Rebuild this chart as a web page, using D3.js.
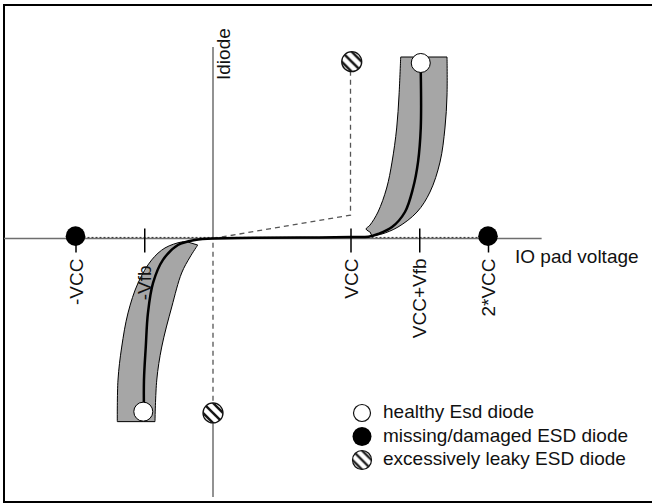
<!DOCTYPE html>
<html>
<head>
<meta charset="utf-8">
<script src="https://cdn.jsdelivr.net/npm/d3@7"></script>
<style>
  body { margin: 0; background: #fff; }
  text { font-family: Arial, "Liberation Sans", sans-serif; fill: #111; }
</style>
</head>
<body>
<svg id="chart" width="652" height="504"></svg>
<script>
// axis ticks (voltage in units of VCC)
var tickValues = [-1, -0.5, 1, 1.5, 2];
var tickLabels = ["-VCC", "-Vfb", "VCC", "VCC+Vfb", "2*VCC"];

// healthy diode I-V curve, positive side (x: V/VCC, y: relative current)
var healthyPos = [[0, 0], [0.3, 0.004], [0.63, 0.005], [1.0, 0.008], [1.13, 0.01], [1.2, 0.025],
    [1.302, 0.063], [1.396, 0.146], [1.455, 0.278], [1.491, 0.421], [1.511, 0.609], [1.511, 0.917]];
// healthy diode I-V curve, negative side
var healthyNeg = [[0, 0], [-0.131, -0.008], [-0.255, -0.036], [-0.364, -0.118], [-0.436, -0.245],
    [-0.473, -0.41], [-0.489, -0.598], [-0.502, -0.78], [-0.502, -0.956]];

// tolerance band edges, positive side
var bandPosLeft = [[1.142, 0.036], [1.113, 0.052], [1.142, 0.074], [1.2, 0.146], [1.263, 0.278],
    [1.302, 0.421], [1.336, 0.609], [1.353, 0.791], [1.365, 1.0]];
var bandPosRight = [[1.156, 0.014], [1.229, 0.025], [1.345, 0.063], [1.484, 0.146], [1.578, 0.256],
    [1.651, 0.421], [1.687, 0.609], [1.702, 0.791], [1.702, 1.0]];
// tolerance band edges, negative side
var bandNegLeft = [[-0.189, -0.018], [-0.228, -0.019], [-0.349, -0.052], [-0.446, -0.118], [-0.545, -0.245],
    [-0.618, -0.41], [-0.664, -0.598], [-0.691, -0.78], [-0.696, -1.009]];
var bandNegRight = [[-0.111, -0.036], [-0.167, -0.102], [-0.228, -0.19], [-0.3, -0.377],
    [-0.373, -0.598], [-0.409, -0.78], [-0.422, -1.009]];

// leaky diode path and markers
var leakyPath = [[1.0, 0.974], [1.0, 0.129], [0, 0], [0, -0.961]];
var healthyPts = [[1.511, 0.967], [-0.507, -0.954]];
var damagedPts = [[-1, 0.013], [2, 0.013]];
var leakyPts = [[1.009, 0.974], [0, -0.961]];
var openLine = [[-1, 0.006], [2, 0.006]];

var legendLabels = ["healthy Esd diode", "missing/damaged ESD diode", "excessively leaky ESD diode"];

var svg = d3.select("#chart");

var x = d3.scaleLinear().domain([-1, 2]).range([75.5, 488]);
var y = d3.scaleLinear().domain([-1, 1]).range([420, 57]);

// frame
svg.append("rect")
    .attr("x", 4).attr("y", 5).attr("width", 650).attr("height", 497)
    .attr("fill", "none").attr("stroke", "#000").attr("stroke-width", 2);

var defs = svg.append("defs");
var pat = defs.append("pattern")
    .attr("id", "hatch")
    .attr("patternUnits", "objectBoundingBox")
    .attr("width", 1).attr("height", 1)
    .attr("viewBox", "0 0 20 20");
pat.append("rect").attr("width", 20).attr("height", 20).attr("fill", "#fff");
[-5, 0, 5].forEach(function (o) {
    pat.append("line")
        .attr("x1", -10 + o).attr("y1", -10 - o)
        .attr("x2", 30 + o).attr("y2", 30 - o)
        .attr("stroke", "#111").attr("stroke-width", 2.4);
});

// axes
svg.append("line")
    .attr("x1", 4).attr("x2", x(2.39))
    .attr("y1", y(0)).attr("y2", y(0))
    .attr("stroke", "#6e6e6e").attr("stroke-width", 1.5);
svg.append("line")
    .attr("x1", x(0)).attr("x2", x(0))
    .attr("y1", y(1.055)).attr("y2", y(0))
    .attr("stroke", "#6e6e6e").attr("stroke-width", 1.5);
svg.append("line")
    .attr("x1", x(0)).attr("x2", x(0))
    .attr("y1", y(-0.961)).attr("y2", y(-1.424))
    .attr("stroke", "#6e6e6e").attr("stroke-width", 1.5);

var line = d3.line()
    .x(function (d) { return x(d[0]); })
    .y(function (d) { return y(d[1]); });
var smooth = d3.line()
    .x(function (d) { return x(d[0]); })
    .y(function (d) { return y(d[1]); })
    .curve(d3.curveCatmullRom);

// open / leaky reference paths
svg.append("path")
    .attr("d", line(openLine))
    .attr("fill", "none").attr("stroke", "#333")
    .attr("stroke-width", 1).attr("stroke-dasharray", "2,2");
svg.append("path")
    .attr("d", line(leakyPath))
    .attr("fill", "none").attr("stroke", "#555")
    .attr("stroke-width", 1.3).attr("stroke-dasharray", "5,4");

function bandPath(left, right) {
    return smooth(left) + smooth(right.slice().reverse()).replace(/^M/, "L") + "Z";
}

svg.append("path")
    .attr("d", bandPath(bandPosLeft, bandPosRight))
    .attr("fill", "#a6a6a6").attr("stroke", "#000").attr("stroke-width", 1);
svg.append("path")
    .attr("d", bandPath(bandNegLeft, bandNegRight))
    .attr("fill", "#a6a6a6").attr("stroke", "#000").attr("stroke-width", 1);

svg.append("path")
    .attr("d", smooth(healthyPos))
    .attr("fill", "none").attr("stroke", "#000").attr("stroke-width", 2.5);
svg.append("path")
    .attr("d", smooth(healthyNeg))
    .attr("fill", "none").attr("stroke", "#000").attr("stroke-width", 2.5);

// ticks and labels, drawn over the bands
var xAxis = d3.axisBottom(x)
    .tickValues(tickValues)
    .tickFormat(function (d, i) { return tickLabels[i]; })
    .tickSize(14);

var ax = svg.append("g")
    .attr("transform", "translate(0," + y(0) + ")")
    .call(xAxis);
ax.select(".domain").remove();
ax.selectAll(".tick line")
    .attr("y1", -10).attr("y2", 14)
    .attr("stroke", "#000").attr("stroke-width", 1.5);
ax.selectAll(".tick text")
    .attr("transform", "rotate(-90)")
    .attr("x", function (d) { return d === -0.5 ? -27 : -20; })
    .attr("y", 0)
    .attr("dy", "0.35em")
    .style("text-anchor", "end")
    .style("font-size", "19px")
    .style("font-family", "Arial, 'Liberation Sans', sans-serif")
    .attr("fill", "#111");

svg.append("text")
    .attr("x", 515).attr("y", 263)
    .style("font-size", "19px")
    .text("IO pad voltage");

svg.append("text")
    .attr("transform", "translate(" + (x(0) + 10.5) + ",80) rotate(-90)")
    .attr("dy", "0.35em")
    .style("font-size", "19px")
    .text("Idiode");

// markers
svg.selectAll(".healthy").data(healthyPts).enter().append("circle")
    .attr("cx", function (d) { return x(d[0]); })
    .attr("cy", function (d) { return y(d[1]); })
    .attr("r", 9.5)
    .attr("fill", "#fff").attr("stroke", "#000").attr("stroke-width", 1);
svg.selectAll(".damaged").data(damagedPts).enter().append("circle")
    .attr("cx", function (d) { return x(d[0]); })
    .attr("cy", function (d) { return y(d[1]); })
    .attr("r", 9.8)
    .attr("fill", "#000");
svg.selectAll(".leaky").data(leakyPts).enter().append("circle")
    .attr("cx", function (d) { return x(d[0]); })
    .attr("cy", function (d) { return y(d[1]); })
    .attr("r", 10)
    .attr("fill", "url(#hatch)").attr("stroke", "#111").attr("stroke-width", 1.3);

// legend
var legend = svg.append("g").attr("transform", "translate(362,413)");
var rows = legend.selectAll("g").data(legendLabels).enter().append("g")
    .attr("transform", function (d, i) { return "translate(0," + (i * 23.5) + ")"; });
rows.append("circle")
    .attr("r", function (d, i) { return i === 0 ? 8.5 : 9.5; })
    .attr("fill", function (d, i) { return i === 0 ? "#fff" : i === 1 ? "#000" : "url(#hatch)"; })
    .attr("stroke", function (d, i) { return i === 1 ? "none" : "#111"; })
    .attr("stroke-width", 1.2);
rows.append("text")
    .attr("x", 21).attr("y", 5)
    .style("font-size", "19px")
    .text(function (d) { return d; });
</script>
</body>
</html>
